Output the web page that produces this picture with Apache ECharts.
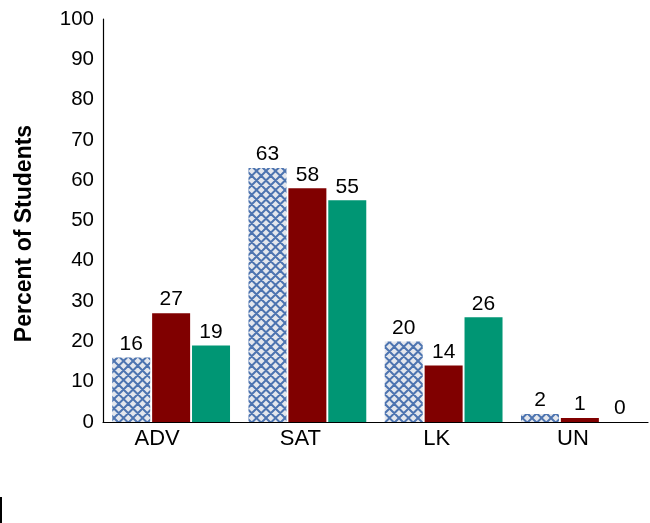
<!DOCTYPE html>
<html><head><meta charset="utf-8">
<script src="https://cdn.jsdelivr.net/npm/echarts@6/dist/echarts.min.js"></script>
<style>html,body{margin:0;padding:0;background:#fff}#c{width:650px;height:523px}</style>
</head><body><div id="c"></div>
<script>
const categories = ['ADV', 'SAT', 'LK', 'UN'];
const series1 = [16, 63, 20, 2];
const series2 = [27, 58, 14, 1];
const series3 = [19, 55, 26, 0];
const yTicks = [0, 10, 20, 30, 40, 50, 60, 70, 80, 90, 100];

function makePattern() {
  const s = 9.5;
  const cv = document.createElement('canvas');
  cv.width = 19; cv.height = 19;
  const g = cv.getContext('2d');
  g.fillStyle = '#e4e7ed';
  g.fillRect(0, 0, 19, 19);
  g.strokeStyle = '#4d74b0';
  g.lineWidth = 2;
  g.beginPath();
  for (let k = -2; k <= 4; k++) {
    g.moveTo(k * s - 20, -20); g.lineTo(k * s + 20, 20);
    g.moveTo(k * s + 20, -20); g.lineTo(k * s - 20, 20);
  }
  g.stroke();
  return cv;
}

const FF = 'Liberation Sans, Arial, sans-serif';
const chart = echarts.init(document.getElementById('c'), null, {renderer: 'canvas'});
const lbl = {show: true, position: 'top', distance: 3, color: '#000', fontSize: 21, fontFamily: FF};
chart.setOption({
  animation: false,
  grid: {left: 103, right: 2, top: 19, bottom: 101, containLabel: false},
  xAxis: {
    type: 'category', data: categories,
    axisLine: {lineStyle: {color: '#000', width: 1.2}},
    axisTick: {show: false},
    axisLabel: {color: '#000', fontSize: 22, fontFamily: FF, margin: 6,
      formatter: (v, i) => i === 0 ? '{a|' + v + '}' : '{b|' + v + '}',
      rich: {
        a: {fontSize: 22, fontFamily: FF, color: '#000', padding: [0, 28, 0, 0]},
        b: {fontSize: 22, fontFamily: FF, color: '#000', padding: [0, 14, 0, 0]}
      }}
  },
  yAxis: {
    type: 'value', min: 0, max: 100, interval: 10,
    name: 'Percent of Students', nameLocation: 'middle', nameGap: 67, nameRotate: 90,
    nameTextStyle: {color: '#000', fontSize: 23, fontWeight: 'bold', fontFamily: FF, padding: [0, 26, 0, 0]},
    axisLine: {show: true, lineStyle: {color: '#000', width: 1.2}},
    axisTick: {show: false},
    splitLine: {show: false},
    axisLabel: {color: '#000', fontSize: 20.5, fontFamily: FF, margin: 9,
      formatter: v => yTicks.includes(v) ? String(v) : ''}
  },
  series: [
    {type: 'bar', data: series1, barWidth: 38, barGap: '5%', itemStyle: {color: {image: makePattern(), repeat: 'repeat'}}, label: lbl},
    {type: 'bar', data: series2, barWidth: 38, barGap: '5%', itemStyle: {color: '#800000'}, label: lbl},
    {type: 'bar', data: series3, barWidth: 38, barGap: '5%', itemStyle: {color: '#009674'}, label: lbl}
  ],
  graphic: [{type: 'rect', shape: {x: 0, y: 497, width: 2, height: 26}, style: {fill: '#000'}}]
});
</script></body></html>
